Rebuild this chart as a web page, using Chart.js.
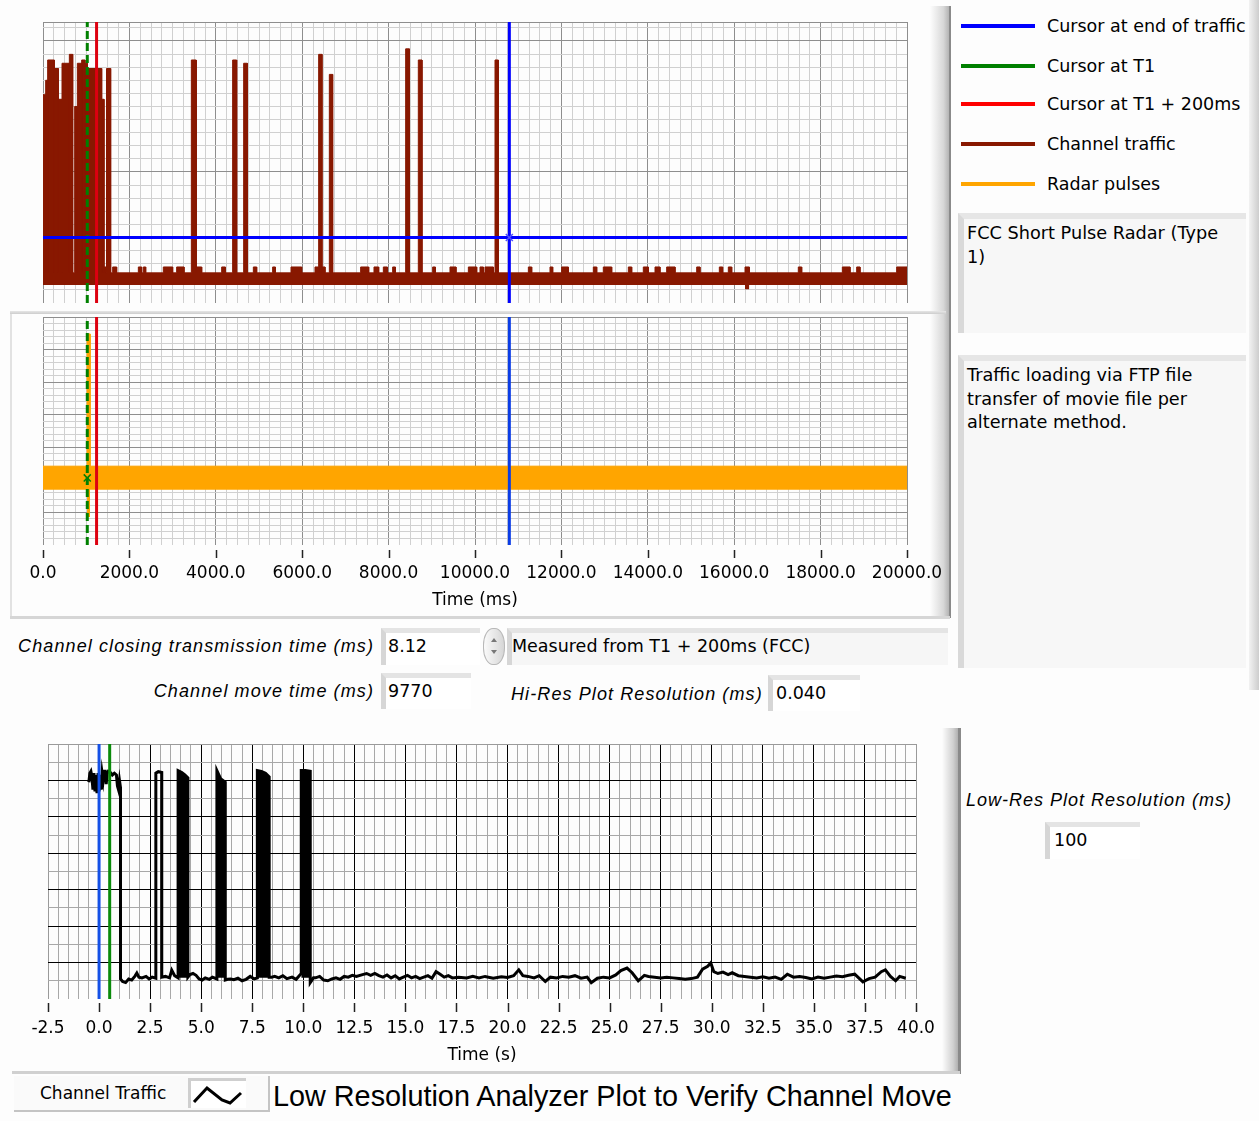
<!DOCTYPE html>
<html>
<head>
<meta charset="utf-8">
<title>Channel move analyzer</title>
<script src="https://cdn.jsdelivr.net/npm/chart.js"></script>
<style>
  body { margin: 0; width: 1259px; height: 1121px; position: relative; overflow: hidden;
         background: #fdfdfd; font-family: 'DejaVu Sans', sans-serif; color: #000; }
  canvas { position: absolute; left: 0; }
  .deco { position: absolute; }
  .lbl { position: absolute; font-family: 'Liberation Sans', sans-serif; font-style: italic; font-size: 18px;
         letter-spacing: 1.1px; white-space: nowrap; line-height: 20px; }
  .box { position: absolute; box-sizing: border-box; background: #fff; border-top: 5px solid #e4e4e4;
         border-left: 5px solid #d6d6d6; font-size: 17.5px; line-height: 26px; padding-left: 2px; white-space: nowrap; }
  .note { position: absolute; box-sizing: border-box; left: 958px; width: 288px; background: #f7f7f7;
          border-top: 6px solid #e6e6e6; border-left: 6px solid #d9d9d9; padding: 3px 12px 0 3px;
          font-size: 17.7px; line-height: 23.5px; }
  .key { position: absolute; left: 961px; width: 74px; height: 4px; }
  .keytxt { position: absolute; left: 1047px; font-size: 17.5px; line-height: 22px; white-space: nowrap; }
</style>
</head>
<body>

<!-- panel frames -->
<div class="deco" style="left:930px;top:6px;width:19px;height:612px;background:linear-gradient(to right,rgba(253,253,253,0),#d8d8d8 70%,#b4b4b4);"></div>
<div class="deco" style="left:949px;top:6px;width:2px;height:612px;background:#8a8a8a;"></div>
<div class="deco" style="left:10px;top:311px;width:936px;height:3px;background:linear-gradient(#e6e6e6,#cdcdcd);"></div>
<div class="deco" style="left:10px;top:314px;width:2px;height:304px;background:#e2e2e2;"></div>
<div class="deco" style="left:10px;top:616px;width:940px;height:3px;background:#d6d6d6;"></div>
<div class="deco" style="left:1249px;top:0;width:10px;height:690px;background:linear-gradient(to right,#f2f2f2,#cdcdcd);"></div>
<div class="deco" style="left:942px;top:728px;width:16px;height:346px;background:linear-gradient(to right,rgba(253,253,253,0),#d0d0d0 70%,#b0b0b0);"></div>
<div class="deco" style="left:958px;top:728px;width:3px;height:346px;background:#8a8a8a;"></div>
<div class="deco" style="left:12px;top:1071px;width:948px;height:3px;background:#d0d0d0;"></div>

<!-- legend -->
<div class="key" style="top:24px;background:#0000ff;"></div>
<div class="keytxt" style="top:15px;">Cursor at end of traffic</div>
<div class="key" style="top:64px;background:#008000;"></div>
<div class="keytxt" style="top:55px;">Cursor at T1</div>
<div class="key" style="top:102px;background:#ff0000;"></div>
<div class="keytxt" style="top:93px;">Cursor at T1 + 200ms</div>
<div class="key" style="top:142px;background:#881800;"></div>
<div class="keytxt" style="top:133px;">Channel traffic</div>
<div class="key" style="top:182px;background:#ffa500;"></div>
<div class="keytxt" style="top:173px;">Radar pulses</div>

<div class="note" style="top:213px;height:120px;">FCC Short Pulse Radar (Type 1)</div>
<div class="note" style="top:355px;height:313px;">Traffic loading via FTP file transfer of movie file per alternate method.</div>

<!-- indicators -->
<div class="lbl" style="right:885px;top:636px;">Channel closing transmission time (ms)</div>
<div class="box" style="left:381px;top:628px;width:99px;height:37px;">8.12</div>
<div class="deco" style="left:483px;top:628px;width:20px;height:35px;border:1px solid #b8b8b8;border-radius:10px/17px;background:linear-gradient(to right,#fafafa,#d6d6d6);">
  <div class="deco" style="left:7px;top:9px;width:0;height:0;border-left:3px solid transparent;border-right:3px solid transparent;border-bottom:4px solid #777;"></div>
  <div class="deco" style="left:7px;top:21px;width:0;height:0;border-left:3px solid transparent;border-right:3px solid transparent;border-top:4px solid #777;"></div>
</div>
<div class="box" style="left:507px;top:628px;width:441px;height:37px;background:#f6f6f6;padding-left:0;">Measured from T1 + 200ms (FCC)</div>
<div class="lbl" style="right:885px;top:681px;">Channel move time (ms)</div>
<div class="box" style="left:381px;top:673px;width:90px;height:36px;">9770</div>
<div class="lbl" style="left:511px;top:684px;">Hi-Res Plot Resolution (ms)</div>
<div class="box" style="left:768px;top:675px;width:92px;height:36px;padding-left:3px;">0.040</div>
<div class="lbl" style="left:966px;top:790px;letter-spacing:1px;">Low-Res Plot Resolution (ms)</div>
<div class="box" style="left:1045px;top:822px;width:95px;height:37px;padding-left:4px;">100</div>

<!-- bottom legend and caption -->
<div class="deco" style="left:14px;top:1076px;width:254px;height:34px;background:#fafafa;border-right:2px solid #c4c4c4;border-bottom:2px solid #c4c4c4;"></div>
<div class="deco" style="left:40px;top:1083px;font-size:17px;line-height:20px;white-space:nowrap;">Channel Traffic</div>
<div class="deco" style="left:188px;top:1078px;width:55px;height:27px;background:#fff;border-top:3px solid #cfcfcf;border-left:3px solid #cfcfcf;">
  <svg width="55" height="27"><polyline points="3,21 16,7 31,19 39,22 50,12" fill="none" stroke="#000" stroke-width="3"/></svg>
</div>
<div class="deco" style="left:273px;top:1078px;font-family:'Liberation Sans',sans-serif;font-size:28.8px;line-height:36px;white-space:nowrap;">Low Resolution Analyzer Plot to Verify Channel Move</div>

<canvas id="hires-traffic" width="950" height="310" style="top:0;"></canvas>
<canvas id="hires-radar" width="950" height="310" style="top:310px;"></canvas>
<canvas id="lowres-traffic" width="950" height="352" style="top:720px;"></canvas>

<script>
//hi-res plot (ms): channel traffic bursts
const hiResMin = 0, hiResMax = 20000;
const burstStart = [0, 62, 108, 262, 355, 440, 610, 733, 795, 895, 972, 1026, 1358, 1412, 1470,
                    3434, 4390, 4645, 6381, 6628, 8395, 8688, 10463];
const burstEnd   = [62, 108, 262, 355, 440, 610, 687, 795, 895, 972, 1026, 1358, 1412, 1458, 1566,
                    3545, 4483, 4730, 6458, 6705, 8480, 8773, 10540];
const burstLevel = [15.9, 17.0, 18.55, 17.9, 15.55, 18.3, 18.98, 15.0, 18.3, 18.55, 18.3, 17.9, 15.55, 2.75, 17.9,
                    18.55, 18.55, 18.3, 18.98, 17.45, 19.4, 18.55, 18.55];
//small steps on top of the noise band
const bumpStart = [1613, 2207, 2323, 2785, 3094, 3557, 4136, 4869, 5316, 5741, 6296, 6458, 7353, 7662, 7878,
                   8094, 9020, 9421, 9846, 10116, 10231, 11235, 11736, 12006, 12739, 12970, 13549, 13896, 14167,
                   14437, 15132, 15656, 15864, 16250, 17484, 18503, 18835, 19761];
const bumpEnd   = [1705, 2284, 2377, 3001, 3264, 3673, 4221, 4946, 5378, 5988, 6381, 6528, 7539, 7770, 7971,
                   8156, 9082, 9560, 10039, 10193, 10424, 11312, 11798, 12160, 12817, 13164, 13627, 14012, 14282,
                   14630, 15208, 15733, 15942, 16350, 17562, 18681, 18912, 20000];
const bumpLevel = 2.75;
const floorTop = 2.3;
const floorBottom = 1.37;
const floorDip = [16250, 16350, 1.05];

//radar pulses (middle graph)
const radarTop = 12.1, radarBottom = 8.5;
const radarPulse = [1020, 1090];
const radarPulseTop = 32.4, radarPulseBottom = 4.3;

//cursors
const cursorT1 = 1025;
const cursorT1Plus200 = 1240;
const cursorEnd = 10795;
const cursorEndLevel = 5.0;

//low-res plot (s, dBm)
const lowResTime = [-0.50, -0.45, -0.40, -0.35, -0.30, -0.25, -0.20, -0.15, -0.10, -0.05, 0.00, 0.05, 0.10, 0.15,
  0.20, 0.25, 0.30, 0.35, 0.40, 0.45, 0.55, 0.65, 0.75, 0.85, 0.90, 0.95, 1.00, 1.05,
  1.05, 1.15, 1.30, 1.45, 1.60, 1.75, 1.85, 1.95, 2.10, 2.30, 2.45, 2.60, 2.78,
  2.78, 2.90, 3.07,
  3.07, 3.25, 3.45, 3.56, 3.70, 3.87,
  3.87, 4.05, 4.20, 4.35,
  4.35, 4.45, 4.60, 4.75, 4.90, 5.05, 5.20, 5.40, 5.55, 5.77,
  5.77, 5.95, 6.18,
  6.18, 6.30, 6.45, 6.60, 6.80, 7.00, 7.20, 7.40, 7.60, 7.75,
  7.75, 7.95, 8.15, 8.33,
  8.33, 8.45, 8.60, 8.80, 9.00, 9.20, 9.45, 9.65, 9.90,
  9.90, 10.10, 10.34,
  10.34, 10.50, 10.60, 10.80, 11.00, 11.20, 11.40, 11.60, 11.80, 12.00, 12.20, 12.40, 12.60, 12.90, 13.10,
  13.30, 13.50, 13.70, 13.90, 14.10, 14.30, 14.50, 14.70, 14.90, 15.10, 15.30, 15.50, 15.70, 15.90, 16.10,
  16.30, 16.50, 16.70, 16.90, 17.10, 17.30, 17.60, 18.00, 18.30, 18.60, 18.90, 19.30, 19.70, 20.00, 20.30,
  20.55, 20.75, 21.00, 21.30, 21.55, 21.85, 22.10, 22.40, 22.70, 23.00, 23.30, 23.60, 23.90, 24.10, 24.40,
  24.70, 25.00, 25.30, 25.55, 25.85, 26.10, 26.40, 26.70, 26.90, 27.20, 27.50, 27.80, 28.10, 28.40, 28.70,
  29.00, 29.30, 29.55, 29.80, 29.95, 30.10, 30.30, 30.55, 30.80, 31.00, 31.30, 31.60, 31.90, 32.20, 32.50,
  32.80, 33.10, 33.40, 33.70, 34.00, 34.30, 34.60, 34.90, 35.20, 35.50, 35.80, 36.10, 36.40, 36.70, 37.00,
  37.40, 37.70, 38.00, 38.30, 38.50, 38.75, 39.00, 39.20, 39.50];
const lowResLevel = [-40.5, -38.0, -37.5, -39.0, -42.5, -38.0, -43.0, -38.5, -43.5, -38.0, -43.0, -38.5, -42.5, -38.0,
  -40.0, -37.5, -37.5, -41.0, -38.0, -37.5, -37.8, -38.5, -38.0, -38.5, -41.5, -42.5, -40.0, -42.0,
  -94.5, -95.2, -95.5, -94.5, -94.8, -93.8, -92.9, -94.0, -94.2, -93.8, -94.5, -94.0, -94.3,
  -38.0, -37.6, -37.8,
  -94.0, -93.8, -94.2, -92.1, -93.6, -94.2,
  -37.3, -37.8, -38.5, -39.3,
  -94.0, -93.3, -93.0, -93.5, -94.5, -94.8, -94.2, -94.6, -94.0, -94.5,
  -37.3, -39.5, -40.5,
  -94.8, -94.6, -94.5, -94.7, -94.3, -95.0, -94.6, -93.8, -94.5, -94.2,
  -37.3, -37.5, -38.0, -39.0,
  -94.0, -94.0, -93.8, -94.2, -93.6, -94.4, -94.0, -94.6, -93.0,
  -37.3, -37.3, -37.5,
  -95.5, -94.2, -94.2, -93.8, -94.8, -95.0, -94.5, -94.2, -94.6, -93.8, -94.0, -93.5, -93.8, -93.3, -93.0,
  -93.5, -93.0, -93.6, -94.0, -93.4, -94.2, -93.6, -94.5, -94.0, -93.5, -94.2, -93.8, -94.4, -94.0, -93.6,
  -94.3, -92.5, -93.2, -94.0, -93.6, -94.2, -94.0, -94.2, -93.8, -94.2, -93.8, -94.3, -93.9, -94.1, -93.6,
  -92.0, -93.6, -93.8, -94.2, -93.6, -95.2, -94.0, -94.2, -93.8, -94.0, -93.6, -94.3, -94.0, -95.5, -94.3,
  -94.0, -94.2, -93.4, -92.2, -91.5, -92.8, -95.0, -93.5, -93.8, -94.0, -94.2, -94.0, -94.2, -94.4, -94.6,
  -94.4, -94.0, -91.8, -91.0, -90.1, -92.5, -93.0, -92.6, -93.3, -92.8, -93.6, -93.8, -94.0, -94.2, -93.9,
  -94.3, -94.0, -94.6, -93.2, -94.0, -93.8, -94.1, -94.5, -94.0, -94.3, -94.0, -93.7, -93.9, -93.5, -93.2,
  -95.3, -94.4, -94.0, -92.5, -92.0, -93.8, -95.0, -93.8, -94.3];
//solid (fast toggling) bursts in the low-res trace
const lowResBurstStart = [3.87, 5.77, 7.75, 9.90];
const lowResBurstEnd = [4.35, 6.18, 8.33, 10.34];
const lowResFloor = -94.2;
const lowResCursorBlue = 0.0;
const lowResCursorGreen = 0.52;


Chart.defaults.font.family = "'DejaVu Sans', sans-serif";
Chart.defaults.font.size = 17;
Chart.defaults.color = '#000';

const brown = '#881800';
const orange = '#ffa500';
const none = 'rgba(0,0,0,0)';

function isMultiple(v, step) {
  const k = v / step;
  return Math.abs(k - Math.round(k)) < 1e-6;
}

function makeTicks(min, max, step) {
  const list = [];
  const n = Math.round((max - min) / step);
  for (let i = 0; i <= n; i++) {
    list.push({value: Math.round((min + i * step) * 1000) / 1000});
  }
  if (list[list.length - 1].value < max - 1e-9) list.push({value: max});
  return list;
}

//short tick marks under the plot, a few pixels below the grid
function tickMarks(every, gap, len) {
  return {
    id: 'tickMarks',
    afterDraw(chart) {
      const x = chart.scales.x, ctx = chart.ctx, y0 = chart.chartArea.bottom;
      ctx.save();
      ctx.strokeStyle = '#222';
      ctx.lineWidth = 1.5;
      x.ticks.forEach(t => {
        if (!isMultiple(t.value, every)) return;
        const px = Math.round(x.getPixelForValue(t.value)) + 0.5;
        ctx.beginPath();
        ctx.moveTo(px, y0 + gap);
        ctx.lineTo(px, y0 + gap + len);
        ctx.stroke();
      });
      ctx.restore();
    }
  };
}

function xAxis(min, max, step, major, showLabels, title, axisHeight, labelPad, titlePad, minorCol, majorCol, edgeCol) {
  return {
    type: 'linear', min: min, max: max,
    afterBuildTicks: s => { s.ticks = makeTicks(min, max, step); },
    afterFit: s => { s.height = axisHeight; s.paddingLeft = 0; s.paddingRight = 0; },
    ticks: {
      display: showLabels, autoSkip: false, maxRotation: 0, padding: labelPad,
      callback: v => isMultiple(v, major) ? v.toFixed(1) : ''
    },
    grid: {
      drawTicks: false,
      color: ctx => {
        const v = ctx.tick.value;
        if (v === min || v === max) return edgeCol;
        return isMultiple(v, major) ? majorCol : minorCol;
      }
    },
    border: {display: false},
    title: {display: showLabels, text: title, padding: {top: 0, bottom: titlePad}}
  };
}

function yAxis(min, max, step, major, minorCol, majorCol, edgeCol) {
  return {
    min: min, max: max,
    afterBuildTicks: s => { s.ticks = makeTicks(min, max, step); },
    afterFit: s => { s.width = 0; s.paddingTop = 0; s.paddingBottom = 0; },
    ticks: {display: false},
    grid: {
      drawTicks: false,
      color: ctx => {
        const v = ctx.tick.value;
        if (v === min) return none;
        if (v === max) return edgeCol;
        return isMultiple(v, major) ? majorCol : minorCol;
      }
    },
    border: {display: false}
  };
}

function vLine(x, y0, y1, color, order, dash) {
  return {
    data: [{x: x, y: y0}, {x: x, y: y1}],
    borderColor: color, borderWidth: 3, borderDash: dash || [],
    pointRadius: 0, fill: false, order: order
  };
}

//traffic band upper edge
let segments = burstStart.map((s, i) => [s, burstEnd[i], burstLevel[i]])
  .concat(bumpStart.map((s, i) => [s, bumpEnd[i], bumpLevel]))
  .sort((a, b) => a[0] - b[0]);
let trafficEdge = [{x: hiResMin, y: floorTop}];
segments.forEach(seg => {
  trafficEdge.push({x: seg[0], y: floorTop}, {x: seg[0], y: seg[2]},
                   {x: seg[1], y: seg[2]}, {x: seg[1], y: floorTop});
});
trafficEdge.push({x: hiResMax, y: floorTop});

const hiTop = 21.45;

//top chart: channel traffic
new Chart(document.getElementById('hires-traffic'), {
  type: 'line',
  data: {
    datasets: [
      {
        data: [{x: cursorEnd, y: cursorEndLevel}],
        showLine: false, pointStyle: 'crossRot', pointRadius: 5,
        borderColor: '#5050ff', borderWidth: 1.5, order: 0
      },
      vLine(cursorEnd, 0, hiTop, '#0000ff', 1),
      {
        data: [{x: hiResMin, y: cursorEndLevel}, {x: hiResMax, y: cursorEndLevel}],
        borderColor: '#0000ff', borderWidth: 3, pointRadius: 0, fill: false, order: 1
      },
      vLine(cursorT1Plus200, 0, hiTop, '#dd0010', 1),
      vLine(cursorT1, 0, hiTop, '#008000', 1, [8, 4]),
      {
        data: trafficEdge,
        borderColor: brown, borderWidth: 1, backgroundColor: brown,
        pointRadius: 0, fill: {value: floorBottom}, order: 3
      },
      {
        data: [{x: floorDip[0], y: floorBottom}, {x: floorDip[1], y: floorBottom}],
        borderColor: brown, borderWidth: 0, backgroundColor: brown,
        pointRadius: 0, fill: {value: floorDip[2]}, order: 3
      }
    ]
  },
  options: {
    responsive: false, animation: false,
    layout: {padding: {left: 43, right: 43, top: 22, bottom: 7}},
    scales: {
      x: xAxis(hiResMin, hiResMax, 250, 2000, false, '', 0, 0, 0, '#d0d0d0', '#8e8e8e', '#8e8e8e'),
      y: yAxis(0, hiTop, 1, 10, '#d0d0d0', '#8e8e8e', '#8e8e8e')
    },
    plugins: {legend: {display: false}, tooltip: {enabled: false}}
  }
});

//middle chart: radar pulses
new Chart(document.getElementById('hires-radar'), {
  type: 'line',
  data: {
    datasets: [
      {
        data: [{x: cursorT1, y: 10.3}],
        showLine: false, pointStyle: 'crossRot', pointRadius: 5,
        borderColor: '#008000', borderWidth: 1.5, order: 0
      },
      vLine(cursorEnd, 0, 35, '#0a3ce6', 1),
      vLine(cursorT1Plus200, 0, 35, '#dd0010', 1),
      vLine(cursorT1, 0, 35, '#008000', 1, [8, 4]),
      {
        data: [{x: hiResMin, y: radarTop}, {x: radarPulse[0], y: radarTop}, {x: radarPulse[0], y: radarPulseTop},
               {x: radarPulse[1], y: radarPulseTop}, {x: radarPulse[1], y: radarTop}, {x: hiResMax, y: radarTop}],
        borderColor: orange, borderWidth: 1, backgroundColor: orange,
        pointRadius: 0, fill: {value: radarBottom}, order: 3
      },
      {
        data: [{x: radarPulse[0], y: radarBottom}, {x: radarPulse[1], y: radarBottom}],
        borderColor: orange, borderWidth: 1, backgroundColor: orange,
        pointRadius: 0, fill: {value: radarPulseBottom}, order: 3
      }
    ]
  },
  options: {
    responsive: false, animation: false,
    layout: {padding: {left: 43, right: 43, top: 7, bottom: 0}},
    scales: {
      x: xAxis(hiResMin, hiResMax, 250, 2000, true, 'Time (ms)', 75, 18, 9, '#d0d0d0', '#8e8e8e', '#8e8e8e'),
      y: yAxis(0, 35, 1, 5, '#d0d0d0', '#8e8e8e', '#8e8e8e')
    },
    plugins: {legend: {display: false}, tooltip: {enabled: false}}
  },
  plugins: [tickMarks(2000, 5, 8)]
});

//bottom chart: low resolution analyzer trace
const lowResPoints = lowResTime.map((t, i) => ({x: t, y: lowResLevel[i]}));
const burstFills = lowResBurstStart.map((s, i) => ({
  data: lowResPoints.filter(p => p.x >= s && p.x <= lowResBurstEnd[i] && p.y > -80),
  borderWidth: 0, backgroundColor: '#000', pointRadius: 0,
  fill: {value: lowResFloor}, order: 3
}));

new Chart(document.getElementById('lowres-traffic'), {
  type: 'line',
  data: {
    datasets: [
      vLine(lowResCursorBlue, -100, -30, '#1450e6', 0),
      vLine(lowResCursorGreen, -100, -30, '#0a8a0a', 0),
      {
        data: lowResPoints,
        borderColor: '#000', borderWidth: 3, pointRadius: 0, fill: false, order: 2
      }
    ].concat(burstFills)
  },
  options: {
    responsive: false, animation: false,
    layout: {padding: {left: 48, right: 34, top: 24, bottom: 0}},
    scales: {
      x: xAxis(-2.5, 40, 0.5, 2.5, true, 'Time (s)', 73, 19, 6, '#a8a8a8', '#000', '#9a9a9a'),
      y: yAxis(-100, -30, 5, 10, '#a8a8a8', '#000', '#9a9a9a')
    },
    plugins: {legend: {display: false}, tooltip: {enabled: false}}
  },
  plugins: [tickMarks(2.5, 4, 9)]
});
</script>
</body>
</html>
